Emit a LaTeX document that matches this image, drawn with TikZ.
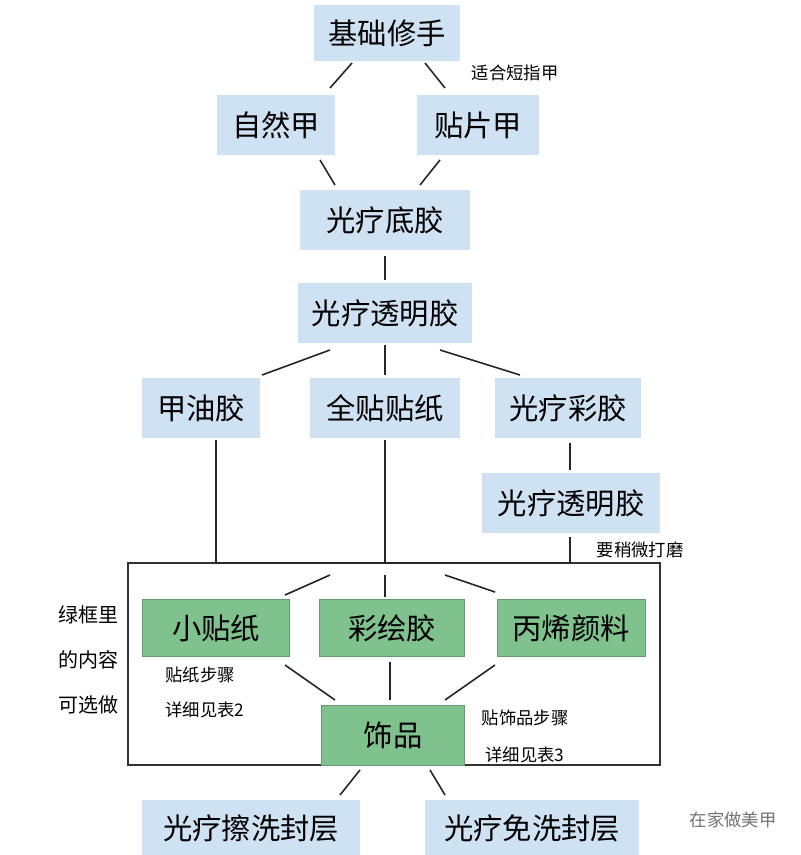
\documentclass[tikz,border=0pt]{standalone}
\usepackage{fontspec}
\setmainfont{Noto Sans CJK SC}
\begin{document}
\begin{tikzpicture}[x=0.75pt,y=-0.75pt,
 bn/.style={fill=blue!18!cyan!10!white,fill=b,inner sep=0pt,font=\fontsize{22}{24}\selectfont},
 gn/.style={fill=g,draw=g!80!black,inner sep=0pt,font=\fontsize{22}{24}\selectfont},
 lb/.style={font=\fontsize{13}{15}\selectfont,inner sep=0pt},
 ln/.style={line width=1.2pt,black!85}]
\definecolor{b}{HTML}{CFE2F3}
\definecolor{g}{HTML}{7FC28E}
\useasboundingbox[fill=white] (0,0) rectangle (800,855);
\node[bn,minimum width=110pt,minimum height=42pt] (a) at (387,33) {基础修手};
\node[bn,minimum width=88pt,minimum height=45pt] (b1) at (276,125) {自然甲};
\node[bn,minimum width=92pt,minimum height=45pt] (b2) at (478,125) {贴片甲};
\node[bn,minimum width=128pt,minimum height=45pt] (c) at (385,220) {光疗底胶};
\node[bn,minimum width=131pt,minimum height=45pt] (d) at (385,313) {光疗透明胶};
\node[bn,minimum width=88pt,minimum height=45pt] (e1) at (201,408) {甲油胶};
\node[bn,minimum width=112pt,minimum height=45pt] (e2) at (385,408) {全贴贴纸};
\node[bn,minimum width=109pt,minimum height=45pt] (e3) at (568,408) {光疗彩胶};
\node[bn,minimum width=133pt,minimum height=45pt] (f) at (571,503) {光疗透明胶};
\draw[line width=1.2pt,black!80] (128,563) rectangle (660,765);
\node[gn,minimum width=110pt,minimum height=43pt] (g1) at (216,628) {小贴纸};
\node[gn,minimum width=109pt,minimum height=43pt] (g2) at (392,628) {彩绘胶};
\node[gn,minimum width=111pt,minimum height=43pt] (g3) at (571,628) {丙烯颜料};
\node[gn,minimum width=107pt,minimum height=45pt] (h) at (393,735) {饰品};
\node[bn,minimum width=163pt,minimum height=42pt,anchor=north] (i1) at (251,800) {光疗擦洗封层};
\node[bn,minimum width=161pt,minimum height=42pt,anchor=north] (i2) at (532,800) {光疗免洗封层};
\coordinate (j1) at (216,563); \coordinate (j2) at (385,563); \coordinate (j3) at (570,563);
\draw[ln] (352,63)--(330,88); \draw[ln] (425,63)--(445,88);
\draw[ln] (320,160)--(335,185); \draw[ln] (440,160)--(420,185);
\draw[ln] (c.south)++(0,6)--(385,280);
\draw[ln] (330,350)--(262,375); \draw[ln] (385,345)--(385,375); \draw[ln] (440,350)--(520,375);
\draw[ln] (570,443)--(570,470);
\draw[ln] (216,440)--(j1); \draw[ln] (385,440)--(j2); \draw[ln] (570,537)--(j3);
\draw[ln] (j1)--(j3);
\draw[ln] (285,595)--(330,575); \draw[ln] (385,575)--(385,597); \draw[ln] (445,575)--(495,592);
\draw[ln] (285,665)--(335,700); \draw[ln] (390,662)--(390,700); \draw[ln] (495,665)--(445,700);
\draw[ln] (360,770)--(340,795); \draw[ln] (430,770)--(445,795);
\node[lb] at (515,73) {适合短指甲};
\node[lb] at (640,550) {要稍微打磨};
\node[lb] at (200,675) {贴纸步骤};
\node[lb] at (205,710) {详细见表2};
\node[lb] at (525,718) {贴饰品步骤};
\node[lb] at (525,755) {详细见表3};
\node[lb,font=\fontsize{15}{17}\selectfont] at (88,615) {绿框里};
\node[lb,font=\fontsize{15}{17}\selectfont] at (88,660) {的内容};
\node[lb,font=\fontsize{15}{17}\selectfont] at (88,705) {可选做};
\node[lb,text=black!55] at (733,820) {在家做美甲};
\end{tikzpicture}
\end{document}
